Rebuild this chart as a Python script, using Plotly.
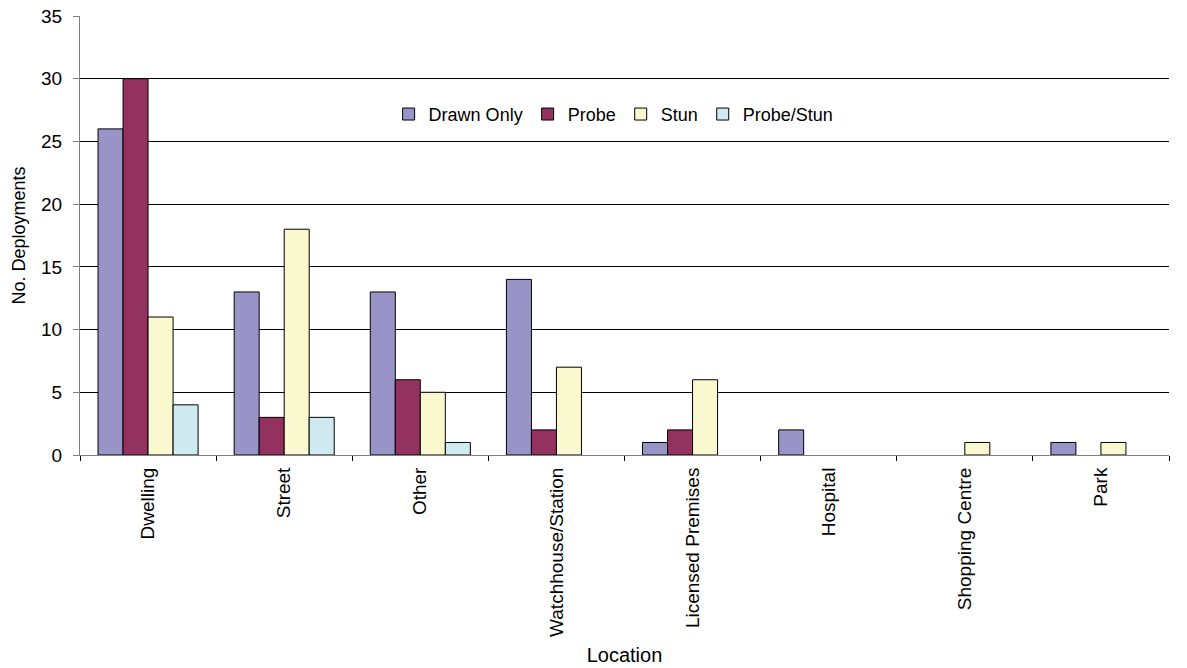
import plotly.graph_objects as go

categories = ["Dwelling", "Street", "Other", "Watchhouse/Station",
              "Licensed Premises", "Hospital", "Shopping Centre", "Park"]
drawn_only = [26, 13, 13, 14, 1, 2, 0, 1]
probe = [30, 3, 6, 2, 2, 0, 0, 0]
stun = [11, 18, 5, 7, 6, 0, 1, 1]
probe_stun = [4, 3, 1, 0, 0, 0, 0, 0]

series = [
    ("Drawn Only", drawn_only, "#9894C8"),
    ("Probe", probe, "#93325F"),
    ("Stun", stun, "#FAF8CF"),
    ("Probe/Stun", probe_stun, "#CEEAF0"),
]

fig = go.Figure()
for name, vals, color in series:
    # zero values are not drawn (as in the original chart)
    fig.add_trace(go.Bar(
        x=categories, y=[v if v else None for v in vals], name=name,
        marker=dict(color=color, line=dict(color="black", width=1)),
    ))

font = "Liberation Sans, Arial, sans-serif"
fig.update_layout(
    width=1187, height=668,
    barmode="group", bargap=0.265, bargroupgap=0,
    plot_bgcolor="white", paper_bgcolor="white",
    margin=dict(l=80, r=18, t=16, b=213),
    font=dict(family=font, size=19, color="black"),
    legend=dict(orientation="h", x=0.49, y=0.776, xanchor="center", yanchor="middle",
                bgcolor="rgba(0,0,0,0)", font=dict(size=18), itemwidth=30,
                tracegroupgap=0),
    xaxis=dict(
        title=dict(text="Location", font=dict(size=20), standoff=12),
        tickangle=-90, showline=True, linecolor="#808080", linewidth=1,
        ticks="outside", tickson="boundaries", ticklen=5, tickcolor="black",
        ticklabelstandoff=4,
        showgrid=False, automargin=False, tickfont=dict(size=19),
    ),
    yaxis=dict(
        title=dict(text="No. Deployments", font=dict(size=18), standoff=10),
        range=[0, 35], dtick=5, showline=True, linecolor="#808080", linewidth=1,
        ticks="outside", ticklen=6, tickcolor="#808080", tickfont=dict(size=19),
        ticklabelstandoff=7,
        showgrid=True, gridcolor="black", gridwidth=1, zeroline=False,
        automargin=False,
    ),
)

fig.write_html("out.html")
